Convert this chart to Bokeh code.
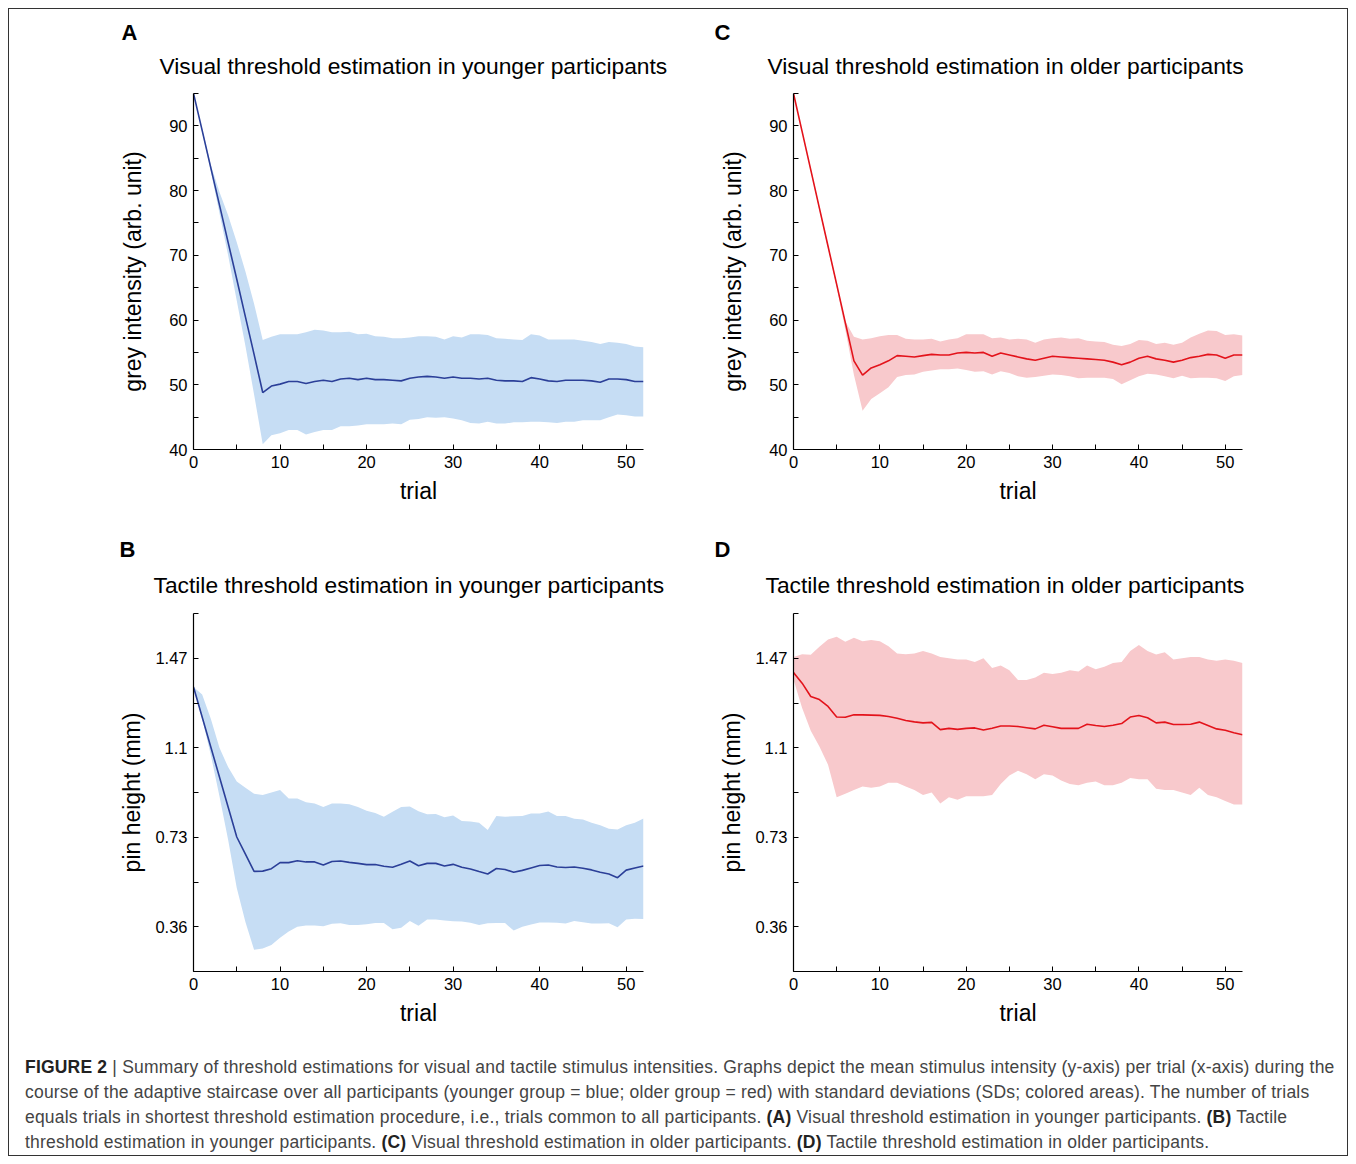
from bokeh.plotting import figure
from bokeh.models import FixedTicker, Div, Range1d, CustomJSTickFormatter, Title
from bokeh.layouts import column, row
from bokeh.embed import file_html
from bokeh.resources import INLINE

FONT = "Liberation Sans"

trials = list(range(53))

# Panel A: visual, younger
vis_young_mean = [95, 89.3, 83.5, 77.8, 72.0, 66.3, 60.5, 54.7, 48.8, 49.8, 50.1, 50.5, 50.5, 50.2,
                  50.5, 50.7, 50.5, 50.9, 51.0, 50.8, 51.0, 50.8, 50.8, 50.7, 50.6, 51.0, 51.2, 51.3,
                  51.2, 51.0, 51.2, 51.0, 51.0, 50.9, 51.0, 50.7, 50.6, 50.6, 50.5, 51.1, 50.9, 50.6,
                  50.5, 50.7, 50.7, 50.7, 50.6, 50.4, 50.9, 50.9, 50.8, 50.5, 50.5]
vis_young_upper = [95, 89.5, 84.0, 79.8, 76.2, 72.0, 67.5, 62.5, 56.9, 57.4, 57.8, 57.8, 57.8, 58.1,
                   58.5, 58.4, 58.1, 58.1, 58.2, 57.8, 57.9, 57.5, 57.4, 57.2, 57.2, 57.3, 57.5, 57.5,
                   57.4, 57.0, 57.5, 57.3, 57.8, 57.8, 57.7, 57.2, 57.1, 57.0, 56.9, 57.8, 57.6, 57.0,
                   57.0, 57.0, 57.0, 56.8, 56.6, 56.3, 56.6, 56.5, 56.3, 55.9, 55.8]
vis_young_lower = [95, 89.0, 83.0, 76.5, 70.0, 63.0, 56.0, 48.5, 40.8, 42.2, 42.5, 43.0, 43.0, 42.3,
                   42.7, 43.0, 43.0, 43.6, 43.6, 43.7, 43.9, 43.9, 43.9, 44.0, 43.9, 44.6, 44.7, 45.0,
                   44.9, 45.0, 44.8, 44.5, 44.1, 44.0, 44.3, 44.0, 44.0, 44.2, 44.2, 44.3, 44.3, 44.2,
                   44.1, 44.3, 44.3, 44.5, 44.5, 44.5, 45.0, 45.4, 45.3, 45.1, 45.1]

# Panel C: visual, older
vis_old_mean = [95, 89.1, 83.2, 77.3, 71.4, 65.5, 59.6, 53.7, 51.5, 52.6, 53.1, 53.7, 54.5, 54.4,
                54.3, 54.5, 54.7, 54.6, 54.6, 54.9, 55.0, 54.9, 55.0, 54.4, 54.9, 54.6, 54.3, 54.0,
                53.8, 54.1, 54.4, 54.3, 54.2, 54.1, 54.0, 53.9, 53.8, 53.5, 53.1, 53.5, 54.1, 54.4,
                54.0, 53.8, 53.5, 53.8, 54.2, 54.4, 54.7, 54.6, 54.1, 54.6, 54.6]
vis_old_upper = [95, 89.2, 83.4, 77.5, 71.6, 65.7, 59.8, 57.4, 57.0, 57.2, 57.5, 57.7, 57.7, 57.1,
                 57.0, 57.0, 57.1, 56.7, 57.0, 57.2, 57.8, 57.8, 57.8, 57.2, 57.3, 57.0, 57.1, 57.0,
                 56.5, 57.0, 57.2, 57.3, 57.1, 57.2, 56.8, 56.7, 56.6, 56.2, 56.0, 56.3, 56.9, 56.8,
                 56.3, 56.5, 56.2, 56.5, 57.3, 57.9, 58.4, 58.3, 57.7, 57.8, 57.6]
vis_old_lower = [95, 89.0, 83.0, 77.0, 71.1, 65.1, 58.5, 51.5, 46.0, 47.8, 48.7, 49.6, 51.2, 51.5,
                 51.6, 52.0, 52.2, 52.4, 52.4, 52.5, 52.3, 52.0, 52.1, 51.6, 52.1, 51.8, 51.3, 51.1,
                 51.2, 51.4, 51.6, 51.5, 51.3, 51.0, 51.1, 51.1, 51.1, 50.9, 50.1, 50.7, 51.3, 51.7,
                 51.6, 51.3, 51.0, 51.4, 51.0, 51.1, 51.1, 51.0, 50.6, 51.3, 51.5]

# Panel B: tactile, younger
tac_young_mean = [1.351, 1.227, 1.103, 0.979, 0.855, 0.731, 0.66, 0.589, 0.59, 0.60, 0.625, 0.625,
                  0.633, 0.628, 0.628, 0.615, 0.63, 0.632, 0.626, 0.622, 0.617, 0.617, 0.61, 0.606,
                  0.618, 0.632, 0.612, 0.622, 0.622, 0.611, 0.618, 0.606, 0.599, 0.588, 0.578, 0.601,
                  0.597, 0.585, 0.593, 0.603, 0.613, 0.615, 0.607, 0.605, 0.607, 0.602, 0.595, 0.585,
                  0.578, 0.563, 0.594, 0.603, 0.611]
tac_young_upper = [1.351, 1.32, 1.22, 1.10, 1.02, 0.96, 0.935, 0.91, 0.905, 0.915, 0.925, 0.89,
                   0.89, 0.875, 0.87, 0.855, 0.87, 0.87, 0.866, 0.855, 0.84, 0.83, 0.815, 0.835,
                   0.855, 0.857, 0.838, 0.825, 0.826, 0.813, 0.82, 0.797, 0.795, 0.79, 0.76, 0.818,
                   0.815, 0.817, 0.818, 0.828, 0.828, 0.836, 0.818, 0.818, 0.806, 0.803, 0.79, 0.78,
                   0.765, 0.762, 0.78, 0.79, 0.808]
tac_young_lower = [1.351, 1.22, 1.07, 0.90, 0.72, 0.52, 0.38, 0.265, 0.27, 0.285, 0.315, 0.34,
                   0.36, 0.365, 0.365, 0.362, 0.372, 0.374, 0.367, 0.367, 0.37, 0.375, 0.376, 0.35,
                   0.356, 0.384, 0.364, 0.39, 0.39, 0.386, 0.383, 0.382, 0.377, 0.367, 0.374, 0.376,
                   0.375, 0.344, 0.36, 0.369, 0.378, 0.378, 0.377, 0.373, 0.384, 0.379, 0.373, 0.373,
                   0.374, 0.358, 0.39, 0.393, 0.392]

# Panel D: tactile, older
tac_old_mean = [1.411, 1.367, 1.312, 1.299, 1.271, 1.227, 1.226, 1.236, 1.236, 1.235, 1.234, 1.229,
                1.222, 1.213, 1.207, 1.203, 1.205, 1.175, 1.18, 1.176, 1.18, 1.182, 1.173, 1.181,
                1.19, 1.19, 1.188, 1.183, 1.178, 1.193, 1.187, 1.18, 1.18, 1.18, 1.197, 1.192,
                1.188, 1.193, 1.2, 1.227, 1.233, 1.224, 1.203, 1.206, 1.196, 1.196, 1.197, 1.206,
                1.192, 1.178, 1.172, 1.162, 1.154]
tac_old_upper = [1.475, 1.487, 1.484, 1.518, 1.548, 1.559, 1.538, 1.555, 1.54, 1.545, 1.54, 1.52,
                 1.49, 1.487, 1.49, 1.50, 1.49, 1.475, 1.47, 1.465, 1.465, 1.455, 1.47, 1.43,
                 1.44, 1.42, 1.38, 1.38, 1.39, 1.41, 1.405, 1.41, 1.42, 1.415, 1.44, 1.425,
                 1.435, 1.45, 1.455, 1.50, 1.525, 1.50, 1.485, 1.495, 1.465, 1.47, 1.475, 1.475,
                 1.465, 1.46, 1.465, 1.46, 1.45]
tac_old_lower = [1.381, 1.264, 1.17, 1.105, 1.03, 0.895, 0.91, 0.925, 0.94, 0.935, 0.94, 0.955,
                 0.955, 0.94, 0.925, 0.905, 0.915, 0.87, 0.895, 0.885, 0.90, 0.90, 0.90, 0.905,
                 0.95, 0.985, 1.005, 0.99, 0.97, 0.99, 0.985, 0.965, 0.95, 0.945, 0.955, 0.96,
                 0.945, 0.945, 0.955, 0.975, 0.97, 0.97, 0.93, 0.925, 0.925, 0.915, 0.905, 0.935,
                 0.905, 0.895, 0.88, 0.865, 0.865]

x_ticks = [0, 10, 20, 30, 40, 50]
x_minor = [5, 15, 25, 35, 45]
grey_ticks = [40, 50, 60, 70, 80, 90]
grey_minor = [45, 55, 65, 75, 85, 95]
pin_ticks = [0.36, 0.73, 1.1, 1.47]
pin_minor = [0.175, 0.545, 0.915, 1.285, 1.655]

BLUE_LINE = "#2b3f98"
BLUE_FILL = "#c6ddf4"
RED_LINE = "#e3131b"
RED_FILL = "#f8c9cc"


def panel(width, height, left, right, top, bottom, yrange, yticks, yminor, mean, lo, hi,
          lc, fc, ylabel, ystand, letter, letter_off, letter_stand, title, title_off, title_stand):
    p = figure(width=width, height=height, output_backend="svg", toolbar_location=None,
               x_range=Range1d(0, 52), y_range=Range1d(*yrange),
               min_border_left=left, min_border_right=right,
               min_border_top=top, min_border_bottom=bottom, title=None)
    p.outline_line_color = None
    p.grid.visible = False
    p.background_fill_color = "white"
    p.border_fill_color = "white"
    p.varea(x=trials, y1=lo, y2=hi, fill_color=fc, fill_alpha=1.0)
    p.line(x=trials, y=mean, line_color=lc, line_width=1.6)

    p.xaxis.ticker = FixedTicker(ticks=x_ticks, minor_ticks=x_minor)
    p.yaxis.ticker = FixedTicker(ticks=yticks, minor_ticks=yminor)
    p.yaxis.formatter = CustomJSTickFormatter(code="return String(Math.round(tick*100)/100)")
    for ax in (p.xaxis[0], p.yaxis[0]):
        ax.axis_line_color = "black"
        ax.axis_line_width = 1.2
        ax.major_tick_in = 5
        ax.major_tick_out = 0
        ax.minor_tick_in = 5
        ax.minor_tick_out = 0
        ax.major_tick_line_color = "black"
        ax.minor_tick_line_color = "black"
        ax.major_label_text_font = FONT
        ax.major_label_text_font_size = "16.5px"
        ax.major_label_text_color = "black"
        ax.axis_label_text_font = FONT
        ax.axis_label_text_font_size = "23px"
        ax.axis_label_text_font_style = "normal"
        ax.axis_label_text_color = "black"
    p.xaxis.axis_label = "trial"
    p.xaxis.major_label_standoff = 6
    p.xaxis.axis_label_standoff = 7
    p.yaxis.axis_label = ylabel
    p.yaxis.major_label_standoff = 6
    p.yaxis.axis_label_standoff = ystand

    p.add_layout(Title(text=title, text_font=FONT, text_font_size="22.8px",
                       text_font_style="normal", text_color="black", align="left",
                       offset=title_off, standoff=title_stand), "above")
    p.add_layout(Title(text=letter, text_font=FONT, text_font_size="22px",
                       text_font_style="bold", text_color="black", align="left",
                       offset=letter_off, standoff=letter_stand), "above")
    return p


pA = panel(671, 521, 184, 37, 84, 81, (40, 95), grey_ticks, grey_minor,
           vis_young_mean, vis_young_lower, vis_young_upper, BLUE_LINE, BLUE_FILL,
           "grey intensity (arb. unit)", 20, "A", -72, -18,
           "Visual threshold estimation in younger participants", -34, 30)
pC = panel(667, 521, 113, 105, 84, 81, (40, 95), grey_ticks, grey_minor,
           vis_old_mean, vis_old_lower, vis_old_upper, RED_LINE, RED_FILL,
           "grey intensity (arb. unit)", 20, "C", -79, -18,
           "Visual threshold estimation in older participants", -26, 30)
pB = panel(671, 500, 184, 37, 83, 59, (0.175, 1.655), pin_ticks, pin_minor,
           tac_young_mean, tac_young_lower, tac_young_upper, BLUE_LINE, BLUE_FILL,
           "pin height (mm)", 7, "B", -74, -16,
           "Tactile threshold estimation in younger participants", -40, 32)
pD = panel(667, 500, 113, 105, 83, 59, (0.175, 1.655), pin_ticks, pin_minor,
           tac_old_mean, tac_old_lower, tac_old_upper, RED_LINE, RED_FILL,
           "pin height (mm)", 7, "D", -79, -17,
           "Tactile threshold estimation in older participants", -28, 32)

caption_html = (
    '<div style="font-family:\'Liberation Sans\';font-size:17.5px;letter-spacing:0.2px;'
    'line-height:25px;color:#444;padding:20px 0 0 11px;white-space:nowrap;">'
    '<b style="color:#222">FIGURE 2</b> | Summary of threshold estimations for visual and tactile stimulus intensities. '
    'Graphs depict the mean stimulus intensity (y-axis) per trial (x-axis) during the<br>'
    'course of the adaptive staircase over all participants (younger group = blue; older group = red) '
    'with standard deviations (SDs; colored areas). The number of trials<br>'
    'equals trials in shortest threshold estimation procedure, i.e., trials common to all participants. '
    '<b style="color:#222">(A)</b> Visual threshold estimation in younger participants. <b style="color:#222">(B)</b> Tactile<br>'
    'threshold estimation in younger participants. <b style="color:#222">(C)</b> Visual threshold estimation in older '
    'participants. <b style="color:#222">(D)</b> Tactile threshold estimation in older participants.'
    '</div>'
)
caption = Div(text=caption_html, width=1338, height=125)

layout = column(row(pA, pC), row(pB, pD), caption, width=1340, height=1148, sizing_mode="fixed",
                styles={"border": "1px solid #333", "background-color": "white",
                        "box-sizing": "border-box",
                        "margin-left": "8px", "margin-top": "8px"})

open("out.html", "w").write(file_html(layout, INLINE))
